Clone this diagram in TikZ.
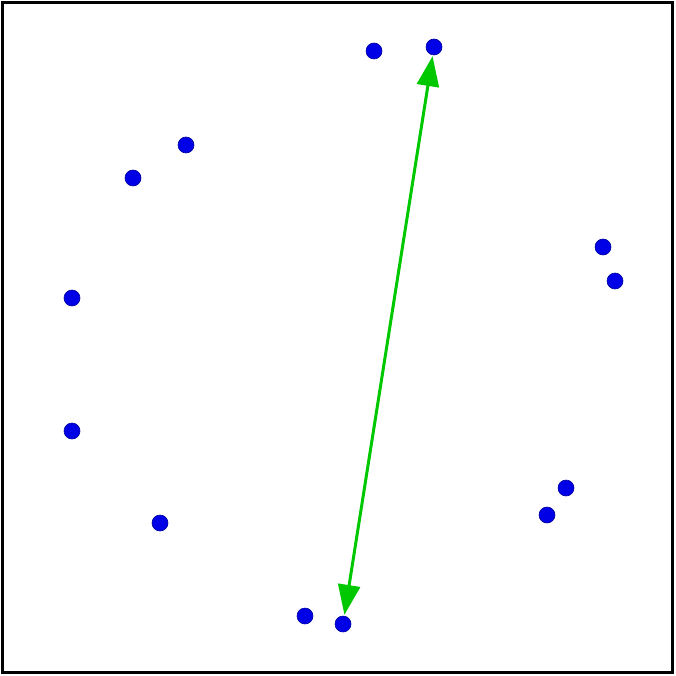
\documentclass[tikz,border=0pt]{standalone}
\usetikzlibrary{arrows.meta}
\definecolor{dotblue}{RGB}{0,0,230}
\definecolor{arrgreen}{RGB}{0,200,0}
\begin{document}
\begin{tikzpicture}[x=1pt,y=-1pt,
  pt/.style={circle,fill=dotblue,draw=dotblue!70!black,line width=0.6pt,minimum size=16pt,inner sep=0pt},
  dbl/.style={draw=arrgreen,line width=3pt,{Triangle[length=30pt,width=22pt]}-{Triangle[length=30pt,width=22pt]},shorten <=1pt,shorten >=1pt}]
\useasboundingbox (0,0) rectangle (676,676);
\draw[line width=3pt] (2.5,2.5) rectangle (672.5,672.5);
\node[pt] (p1) at (374,51) {};
\node[pt] (p2) at (434,47) {};
\node[pt] (p3) at (186,145) {};
\node[pt] (p4) at (133,178) {};
\node[pt] (p5) at (603,247) {};
\node[pt] (p6) at (615,281) {};
\node[pt] (p7) at (72,298) {};
\node[pt] (p8) at (72,431) {};
\node[pt] (p9) at (566,488) {};
\node[pt] (p10) at (547,515) {};
\node[pt] (p11) at (160,523) {};
\node[pt] (p12) at (305,616) {};
\node[pt] (p13) at (343,624) {};
\draw[dbl] (p13) -- (p2);
\end{tikzpicture}
\end{document}
